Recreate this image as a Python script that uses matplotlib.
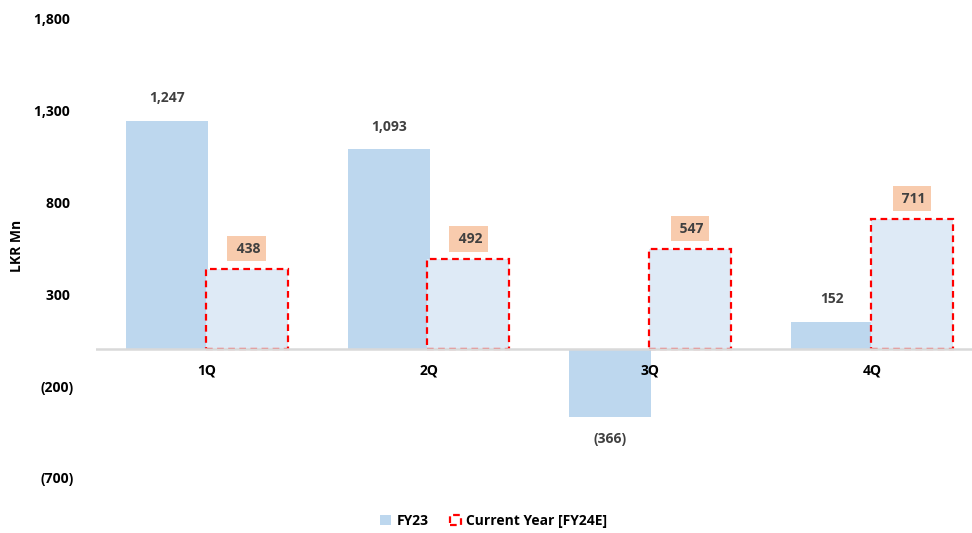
import numpy as np
import matplotlib
matplotlib.use("Agg")
import matplotlib.pyplot as plt
from matplotlib.patches import Patch

# Chart data
quarters = ["1Q", "2Q", "3Q", "4Q"]
fy23 = [1247, 1093, -366, 152]
fy24e = [438, 492, 547, 711]
yticks = [-700, -200, 300, 800, 1300, 1800]

plt.rcParams["font.family"] = ["Open Sans", "DejaVu Sans"]
plt.rcParams["font.weight"] = "bold"

fig = plt.figure(figsize=(9.72, 5.33), dpi=100)
ax = fig.add_axes([96 / 972, 1 - 478 / 533, 876 / 972, 459 / 533])

x = np.arange(len(quarters))
w = 0.37
off = 0.18
fs = 10

ax.bar(x - off, fy23, width=w, color="#BDD7EE", zorder=2)
ax.bar(x + off, fy24e, width=w, color="#DEEAF6", edgecolor="#FF0000",
       linestyle=(0, (3, 2)), linewidth=1.6, zorder=3)

# zero line
ax.axhline(0, color="#D9D9D9", lw=1.8, zorder=4)

# value labels
for xi, v in zip(x - off, fy23):
    if v >= 0:
        ax.annotate(f"{v:,}", (xi, v), xytext=(0, 16), textcoords="offset points",
                    ha="center", va="center", fontsize=fs, color="#404040",
                    fontweight="bold")
    else:
        ax.annotate(f"({-v:,})", (xi, v), xytext=(0, -16), textcoords="offset points",
                    ha="center", va="center", fontsize=fs, color="#404040",
                    fontweight="bold")

for xi, v in zip(x + off, fy24e):
    ax.annotate(f" {v:,}", (xi, v), xytext=(0, 14.5), textcoords="offset points",
                ha="center", va="center", fontsize=fs, color="#404040",
                fontweight="bold",
                bbox=dict(boxstyle="square,pad=0.4", fc="#F8CBAD", ec="none"))

# category labels sit on the zero line
for xi, q in zip(x, quarters):
    ax.annotate(q, (xi, 0), xytext=(0, -15), textcoords="offset points",
                ha="center", va="center", fontsize=fs, color="#000000",
                fontweight="bold")

ax.set_xlim(-0.5, 876 / 221.7 - 0.5)
ax.set_ylim(-700, 1800)
ax.set_xticks([])
ax.set_yticks(yticks)
ax.set_yticklabels([f"{t:,} " if t >= 0 else f"({-t:,})" for t in yticks],
                   fontsize=fs, fontweight="bold")
ax.tick_params(axis="y", length=0, pad=16)
for s in ax.spines.values():
    s.set_visible(False)

fig.text(17 / 972, 1 - 246 / 533, "LKR Mn", rotation=90, ha="center",
         va="center", fontsize=fs, fontweight="bold")

handles = [Patch(facecolor="#BDD7EE", edgecolor="none", label="FY23"),
           Patch(facecolor="#FFFFFF", edgecolor="#FF0000", linestyle=(0, (3, 2)),
                 linewidth=1.6, label="Current Year [FY24E]")]
fig.legend(handles=handles, loc="center", bbox_to_anchor=(0.508, 1 - 521 / 533),
           ncol=2, frameon=False, handlelength=0.8, handleheight=0.8,
           handletextpad=0.4, columnspacing=1.5, prop={"weight": "bold", "size": fs})

fig.savefig("out.png", dpi=100)
